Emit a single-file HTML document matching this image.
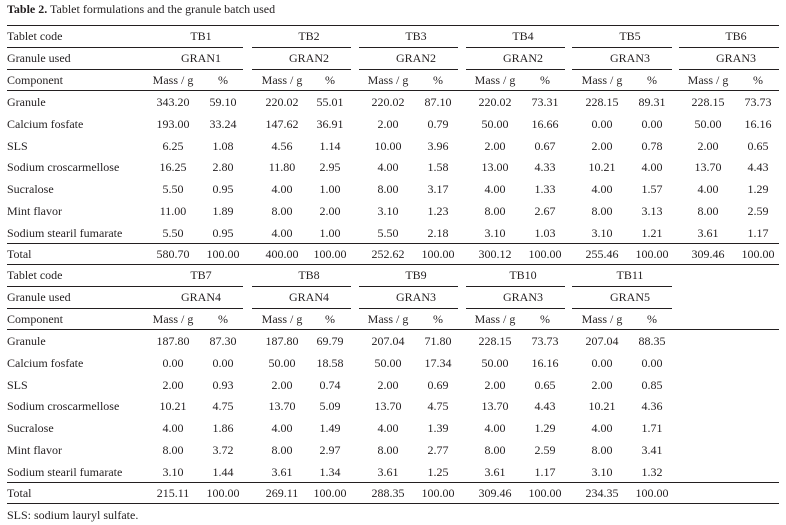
<!DOCTYPE html>
<html><head><meta charset="utf-8"><style>
body{margin:0;background:#fff;}
#wrap{position:relative;width:786px;height:525px;overflow:hidden;font-family:"Liberation Serif",serif;font-size:12px;color:#231f20;}
.t{position:absolute;white-space:nowrap;line-height:14px;}
.l{position:absolute;height:1px;background:#231f20;}
</style></head><body>
<div id="wrap">
<div class="t" style="left:7px;top:2px;"><b>Table 2.</b> Tablet formulations and the granule batch used</div>
<div class="t" style="left:7px;top:508px;">SLS: sodium lauryl sulfate.</div>
</div>
<script>
const components=["Granule","Calcium fosfate","SLS","Sodium croscarmellose","Sucralose","Mint flavor","Sodium stearil fumarate"];
const codes1=["TB1","TB2","TB3","TB4","TB5","TB6"];
const grans1=["GRAN1","GRAN2","GRAN2","GRAN2","GRAN3","GRAN3"];
const mass1=[["343.20","193.00","6.25","16.25","5.50","11.00","5.50"],["220.02","147.62","4.56","11.80","4.00","8.00","4.00"],["220.02","2.00","10.00","4.00","8.00","3.10","5.50"],["220.02","50.00","2.00","13.00","4.00","8.00","3.10"],["228.15","0.00","2.00","10.21","4.00","8.00","3.10"],["228.15","50.00","2.00","13.70","4.00","8.00","3.61"]];
const pct1=[["59.10","33.24","1.08","2.80","0.95","1.89","0.95"],["55.01","36.91","1.14","2.95","1.00","2.00","1.00"],["87.10","0.79","3.96","1.58","3.17","1.23","2.18"],["73.31","16.66","0.67","4.33","1.33","2.67","1.03"],["89.31","0.00","0.78","4.00","1.57","3.13","1.21"],["73.73","16.16","0.65","4.43","1.29","2.59","1.17"]];
const total1=["580.70","400.00","252.62","300.12","255.46","309.46"];
const codes2=["TB7","TB8","TB9","TB10","TB11"];
const grans2=["GRAN4","GRAN4","GRAN3","GRAN3","GRAN5"];
const mass2=[["187.80","0.00","2.00","10.21","4.00","8.00","3.10"],["187.80","50.00","2.00","13.70","4.00","8.00","3.61"],["207.04","50.00","2.00","13.70","4.00","8.00","3.61"],["228.15","50.00","2.00","13.70","4.00","8.00","3.61"],["207.04","0.00","2.00","10.21","4.00","8.00","3.10"]];
const pct2=[["87.30","0.00","0.93","4.75","1.86","3.72","1.44"],["69.79","18.58","0.74","5.09","1.49","2.97","1.34"],["71.80","17.34","0.69","4.75","1.39","2.77","1.25"],["73.73","16.16","0.65","4.43","1.29","2.59","1.17"],["88.35","0.00","0.85","4.36","1.71","3.41","1.32"]];
const total2=["215.11","269.11","288.35","309.46","234.35"];

const W=document.getElementById('wrap');
const massX=[173,282,388,495,602,708], pctX=[223,330,438,545,652,758];
const gx0=[7,252,359,466,572,679], gx1=[243,351,458,565,672,779];
function txt(s,x,y,center,name){
  const d=document.createElement('div');d.className='t';d.textContent=s;
  d.style.top=(y-7)+'px';
  if(center){d.style.left=(x-60)+'px';d.style.width='120px';d.style.textAlign='center';}
  else d.style.left=x+'px';
  
  
  W.appendChild(d);
}
function line(x0,x1,y,name){
  const d=document.createElement('div');d.className='l';
  d.style.left=x0+'px';d.style.width=(x1-x0)+'px';d.style.top=y+'px';
  
  
  W.appendChild(d);
}
function table(top,codes,grans,mass,pct,total,k){
  const o=top;
  line(7,779,o,'table-top-rule');
  txt('Tablet code',7,o+11,false,'row-header-tablet-code');
  txt('Granule used',7,o+33,false,'row-header-granule-used');
  txt('Component',7,o+55,false,'row-header-component');
  for(let i=0;i<codes.length;i++){
    const cx=(massX[i]+pctX[i])/2+3;
    txt(codes[i],cx,o+11,true,'tablet-code-'+codes[i].toLowerCase());
    txt(grans[i],cx,o+33,true,'granule-'+codes[i].toLowerCase());
    txt('Mass / g',massX[i],o+55,true,'mass-header');
    txt('%',pctX[i],o+55,true,'percent-header');
    line(gx0[i],gx1[i],o+22,'group-rule');
    line(gx0[i],gx1[i],o+44,'group-rule');
    for(let r=0;r<components.length;r++){
      txt(mass[i][r],massX[i],o+77+r*21.8,true,'mass-cell');
      txt(pct[i][r],pctX[i],o+77+r*21.8,true,'percent-cell');
    }
    txt(total[i],massX[i],o+229,true,'total-mass');
    txt('100.00',pctX[i],o+229,true,'total-percent');
  }
  line(7,779,o+65,'header-bottom-rule');
  components.forEach((c,r)=>txt(c,7,o+77+r*21.8,false,'component-label'));
  line(7,779,o+218,'total-top-rule');
  txt('Total',7,o+229,false,'total-label');
  line(7,779,o+239,'table-bottom-rule');
}
table(25,codes1,grans1,mass1,pct1,total1,1);
table(264,codes2,grans2,mass2,pct2,total2,2);
</script>
</body></html>
